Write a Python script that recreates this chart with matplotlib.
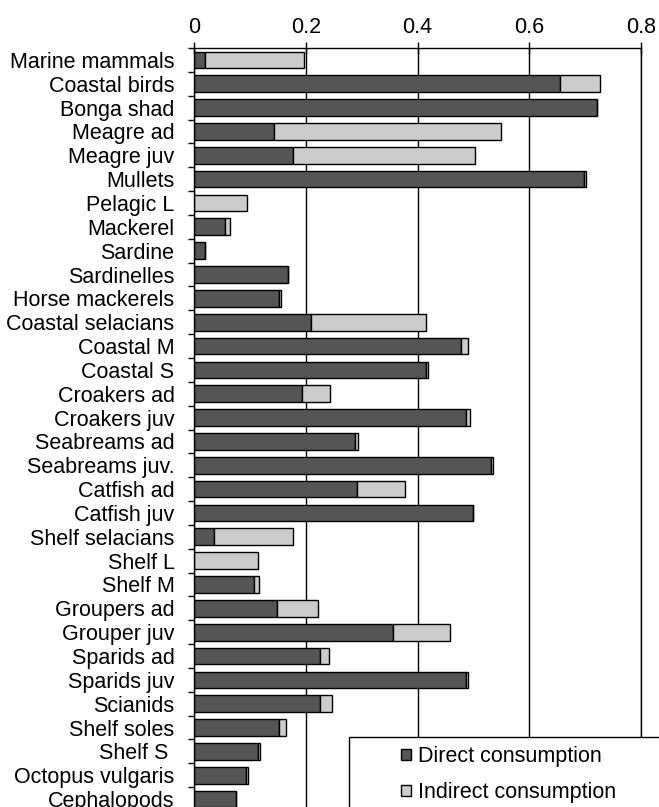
import numpy as np
import matplotlib
matplotlib.use('Agg')
import matplotlib.pyplot as plt
from matplotlib.patches import Rectangle, Patch

plt.rcParams['font.family'] = ['Liberation Sans', 'DejaVu Sans']

groups = ["Marine mammals", "Coastal birds", "Bonga shad", "Meagre ad", "Meagre juv",
          "Mullets", "Pelagic L", "Mackerel", "Sardine", "Sardinelles",
          "Horse mackerels", "Coastal selacians", "Coastal M", "Coastal S",
          "Croakers ad", "Croakers juv", "Seabreams ad", "Seabreams juv.",
          "Catfish ad", "Catfish juv", "Shelf selacians", "Shelf L", "Shelf M",
          "Groupers ad", "Grouper juv", "Sparids ad", "Sparids juv", "Scianids",
          "Shelf soles", "Shelf S ", "Octopus vulgaris", "Cephalopods"]

# direct / indirect consumption
direct = [0.019, 0.655, 0.721, 0.143, 0.178,
          0.698, 0.0, 0.055, 0.020, 0.169,
          0.153, 0.209, 0.478, 0.416,
          0.193, 0.486, 0.288, 0.532,
          0.291, 0.500, 0.036, 0.0, 0.108,
          0.149, 0.357, 0.226, 0.487, 0.226,
          0.152, 0.115, 0.093, 0.076]
indirect = [0.177, 0.072, 0.0, 0.407, 0.325,
            0.003, 0.095, 0.009, 0.0, 0.0,
            0.003, 0.206, 0.012, 0.003,
            0.051, 0.008, 0.006, 0.003,
            0.086, 0.0, 0.142, 0.114, 0.009,
            0.073, 0.102, 0.015, 0.003, 0.021,
            0.013, 0.003, 0.003, 0.0]

dark = '#555555'
light = '#cccccc'
fs = 15.5

fig = plt.figure(figsize=(6.59, 8.07), dpi=100)
ax = fig.add_axes([194 / 659, -4 / 807, 447 / 659, 763 / 807])

y = np.arange(len(groups))
ax.barh(y, direct, height=0.7, color=dark, edgecolor='black', linewidth=1)
ax.barh(y, indirect, left=direct, height=0.7, color=light, edgecolor='black', linewidth=1)

ax.set_xlim(0, 0.8)
ax.set_ylim(len(groups) - 0.5, -0.5)
ax.set_xticks([0, 0.2, 0.4, 0.6, 0.8])
ax.set_xticklabels(['0', '0.2', '0.4', '0.6', '0.8'])
ax.xaxis.tick_top()
ax.tick_params(axis='x', direction='inout', length=9, width=1, labelsize=fs, pad=3)
ax.set_yticks(y)
ax.set_yticklabels(groups)
ax.set_yticks(np.arange(len(groups) + 1) - 0.5, minor=True)
ax.tick_params(axis='y', which='major', length=0, labelsize=fs, pad=14)
ax.tick_params(axis='y', which='minor', direction='out', length=4, width=1)

ax.grid(axis='x', color='black', linewidth=1)
ax.set_axisbelow(True)
ax.spines['bottom'].set_visible(False)
for s in ['top', 'left', 'right']:
    ax.spines[s].set_linewidth(1)

# legend box
box = Rectangle((349 / 659, -0.05), 0.6, 0.05 + 70 / 807, transform=fig.transFigure,
                facecolor='white', edgecolor='black', linewidth=1, zorder=3)
fig.patches.append(box)
handles = [Patch(facecolor=dark, edgecolor='black', label='Direct consumption'),
           Patch(facecolor=light, edgecolor='black', label='Indirect consumption')]
fig.legend(handles=handles, loc='upper left', bbox_to_anchor=(401 / 659, 1 - 746 / 807),
           frameon=False, fontsize=fs, handlelength=0.45, handleheight=0.45,
           handletextpad=0.35, labelspacing=0.7, borderpad=0, borderaxespad=0)

fig.savefig('out.png', dpi=100)
